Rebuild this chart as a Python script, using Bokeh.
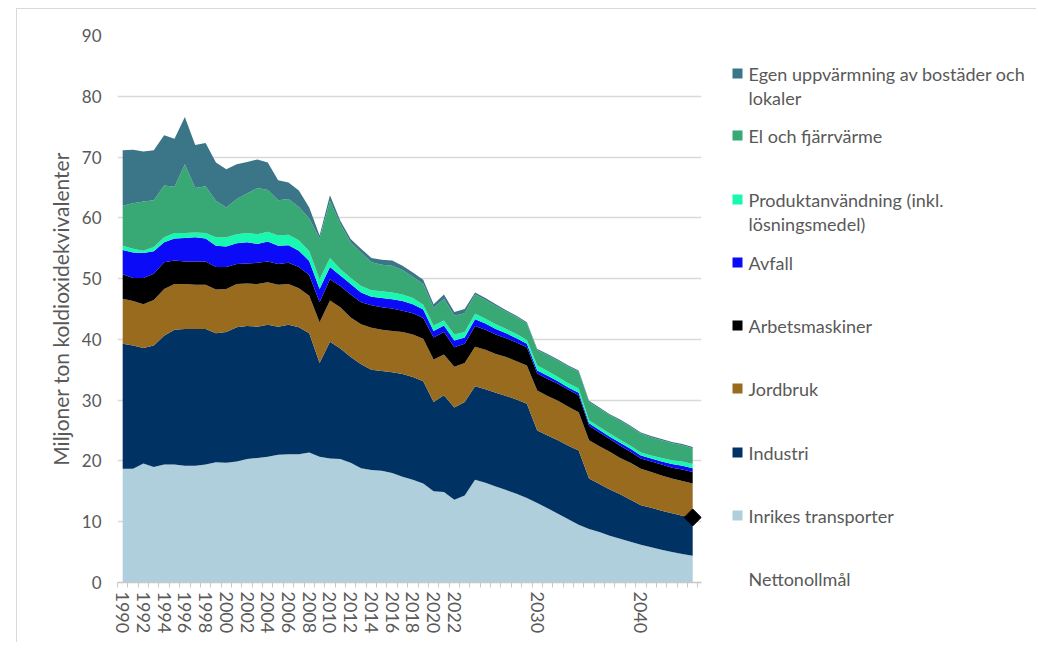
from bokeh.plotting import figure
from bokeh.models import ColumnDataSource, Range1d, FixedTicker
from bokeh.layouts import row
from bokeh.embed import file_html
from bokeh.resources import INLINE
from bokeh.core.properties import value

years = list(range(1990, 2046))

inrikes_transporter = [
    18.7, 18.7, 19.6, 19.0, 19.4, 19.4, 19.2, 19.2, 19.4, 19.8,
    19.7, 19.9, 20.3, 20.5, 20.7, 21.0, 21.1, 21.1, 21.4, 20.7,
    20.4, 20.3, 19.7, 18.8, 18.5, 18.4, 18.0, 17.4, 16.9, 16.3,
    15.0, 14.9, 13.6, 14.3, 16.9, 16.4, 15.8, 15.2, 14.6, 13.9,
    13.1, 12.2, 11.3, 10.4, 9.5, 8.8, 8.3, 7.7, 7.2, 6.7,
    6.2, 5.8, 5.4, 5.0, 4.7, 4.4]
industri = [
    20.6, 20.3, 19.0, 20.0, 21.2, 22.2, 22.5, 22.5, 22.3, 21.2,
    21.5, 22.1, 21.9, 21.6, 21.7, 21.1, 21.3, 20.9, 19.6, 15.4,
    19.2, 18.2, 17.4, 17.1, 16.5, 16.4, 16.6, 16.9, 16.9, 16.8,
    14.7, 15.9, 15.2, 15.4, 15.4, 15.4, 15.4, 15.5, 15.5, 15.5,
    11.9, 12.0, 12.1, 12.1, 12.2, 8.3, 7.9, 7.6, 7.3, 6.9,
    6.5, 6.5, 6.4, 6.4, 6.3, 6.3]
jordbruk = [
    7.4, 7.3, 7.2, 7.5, 7.7, 7.5, 7.4, 7.3, 7.3, 7.2,
    7.1, 7.1, 7.0, 7.0, 7.0, 6.9, 6.7, 6.4, 6.2, 6.7,
    6.8, 6.8, 6.5, 6.6, 6.9, 6.8, 6.8, 6.9, 7.0, 7.0,
    7.0, 6.7, 6.7, 6.4, 6.5, 6.5, 6.4, 6.4, 6.3, 6.3,
    6.6, 6.5, 6.5, 6.4, 6.3, 6.3, 6.2, 6.2, 6.0, 6.1,
    6.0, 5.9, 5.8, 5.7, 5.7, 5.6]
arbetsmaskiner = [
    4.0, 3.8, 4.3, 4.3, 4.4, 3.9, 3.7, 3.8, 3.8, 3.7,
    3.6, 3.3, 3.3, 3.5, 3.4, 3.4, 3.5, 3.5, 3.4, 3.3,
    3.5, 3.5, 3.8, 3.6, 3.7, 3.7, 3.7, 3.5, 3.5, 3.4,
    3.6, 3.7, 3.2, 3.2, 3.4, 3.3, 3.2, 3.1, 3.1, 3.0,
    2.8, 2.8, 2.8, 2.8, 2.8, 2.4, 2.3, 2.1, 2.0, 1.8,
    1.7, 1.7, 1.8, 1.8, 1.9, 1.9]
avfall = [
    4.0, 4.2, 4.1, 3.7, 3.3, 3.6, 3.9, 4.0, 3.8, 3.5,
    3.4, 3.4, 3.5, 3.1, 3.3, 3.0, 2.9, 2.7, 2.3, 2.2,
    2.0, 1.7, 1.7, 1.6, 1.4, 1.5, 1.5, 1.6, 1.5, 1.4,
    1.1, 1.1, 1.1, 1.0, 1.1, 1.0, 0.9, 0.8, 0.7, 0.6,
    0.5, 0.5, 0.4, 0.4, 0.4, 0.4, 0.4, 0.4, 0.5, 0.5,
    0.5, 0.5, 0.5, 0.6, 0.6, 0.6]
produktanvandning = [
    0.7, 0.6, 0.4, 0.7, 0.8, 0.9, 0.8, 0.8, 0.9, 1.4,
    1.5, 1.5, 1.5, 1.6, 1.6, 1.7, 1.7, 1.7, 1.6, 1.6,
    1.5, 1.1, 1.0, 1.1, 1.1, 1.1, 1.1, 1.1, 1.0, 0.8,
    0.9, 0.8, 1.0, 0.9, 0.9, 0.8, 0.8, 0.7, 0.7, 0.6,
    0.8, 0.8, 0.7, 0.7, 0.7, 0.5, 0.5, 0.5, 0.5, 0.5,
    0.5, 0.5, 0.6, 0.6, 0.7, 0.7]
el_fjarrvarme = [
    6.6, 7.5, 8.1, 7.7, 8.5, 7.6, 11.3, 7.3, 7.7, 6.0,
    4.9, 5.8, 6.5, 7.6, 6.9, 5.8, 5.9, 5.5, 5.4, 6.7,
    9.4, 7.4, 5.9, 5.5, 4.6, 4.4, 4.4, 4.0, 3.5, 3.4,
    2.9, 3.6, 3.1, 3.1, 3.2, 3.1, 3.0, 2.9, 2.8, 2.7,
    2.5, 2.6, 2.7, 2.7, 2.8, 3.0, 3.0, 3.0, 3.1, 3.1,
    3.1, 3.0, 2.9, 2.8, 2.7, 2.6]
egen_uppvarmning = [
    9.1, 8.8, 8.2, 8.2, 8.3, 7.9, 7.8, 7.1, 7.1, 6.3,
    6.3, 5.7, 5.2, 4.7, 4.5, 3.3, 2.7, 2.7, 1.8, 0.5,
    0.9, 0.5, 0.5, 0.6, 0.7, 0.8, 0.9, 0.7, 0.7, 0.7,
    0.6, 0.7, 0.6, 0.7, 0.3, 0.3, 0.3, 0.2, 0.2, 0.2,
    0.2, 0.2, 0.2, 0.2, 0.2, 0.2, 0.2, 0.2, 0.2, 0.2,
    0.2, 0.2, 0.2, 0.2, 0.2, 0.2]

netto_year = [2045]
netto_value = [10.7]

label_years = [1990, 1992, 1994, 1996, 1998, 2000, 2002, 2004, 2006, 2008,
               2010, 2012, 2014, 2016, 2018, 2020, 2022, 2030, 2040]
y_ticks = [0, 10, 20, 30, 40, 50, 60, 70, 80, 90]

keys = ["transport", "industri", "jordbruk", "arbets", "avfall", "produkt", "el", "egen"]
colors = ["#AECFDB", "#003364", "#996B1F", "#000000", "#0B0BF8", "#19F8B0", "#38A874", "#3B7688"]
legend_lines = [
    ["Egen uppvärmning av bostäder och", "lokaler"],
    ["El och fjärrvärme"],
    ["Produktanvändning (inkl.", "lösningsmedel)"],
    ["Avfall"],
    ["Arbetsmaskiner"],
    ["Jordbruk"],
    ["Industri"],
    ["Inrikes transporter"],
    ["Nettonollmål"],
]

FONT = "Lato"
TXT = "#595959"

src = ColumnDataSource(dict(
    year=years, transport=inrikes_transporter, industri=industri, jordbruk=jordbruk,
    arbets=arbetsmaskiner, avfall=avfall, produkt=produktanvandning,
    el=el_fjarrvarme, egen=egen_uppvarmning))

p = figure(width=711, height=633, x_range=Range1d(1989.5, 2045.85), y_range=Range1d(0, 90),
           output_backend="svg", toolbar_location=None,
           min_border_left=100, min_border_right=27, min_border_top=26, min_border_bottom=60)
p.frame_align = False
p.outline_line_color = None
p.background_fill_color = "white"
p.border_fill_color = "white"

p.varea_stack(stackers=keys, x="year", color=colors, source=src)
p.scatter(x=netto_year, y=netto_value, marker="square", size=12, angle=45, angle_units="deg",
          fill_color="black", line_color="black")

# x axis
p.xaxis.ticker = FixedTicker(ticks=label_years, minor_ticks=[y - 0.5 for y in years] + [years[-1] + 0.5])
p.xaxis.major_label_orientation = "vertical"
p.xaxis.major_tick_out = 0
p.xaxis.major_tick_in = 0
p.xaxis.minor_tick_out = 5
p.xaxis.minor_tick_in = 0
p.xaxis.minor_tick_line_color = "#c8c8c8"
p.xaxis.axis_line_color = "#c8c8c8"
p.xaxis.axis_line_width = 1.5
p.xaxis.major_label_text_font = FONT
p.xaxis.major_label_text_font_size = "18px"
p.xaxis.major_label_text_color = TXT
p.xaxis.major_label_standoff = 4
p.xgrid.visible = False

# y axis
p.yaxis.ticker = FixedTicker(ticks=y_ticks)
p.yaxis.axis_line_color = None
p.yaxis.major_tick_out = 0
p.yaxis.major_tick_in = 0
p.yaxis.major_tick_line_color = None
p.yaxis.minor_tick_line_color = None
p.yaxis.major_label_text_font = FONT
p.yaxis.major_label_text_font_size = "17px"
p.yaxis.major_label_text_color = TXT
p.yaxis.major_label_standoff = 16
p.yaxis.axis_label = "Miljoner ton koldioxidekvivalenter"
p.yaxis.axis_label_text_font = FONT
p.yaxis.axis_label_text_font_size = "21px"
p.yaxis.axis_label_text_font_style = "normal"
p.yaxis.axis_label_text_color = TXT
p.yaxis.axis_label_standoff = 6
p.ygrid.ticker = FixedTicker(ticks=y_ticks)
p.ygrid.grid_line_color = "#d9d9d9"
p.ygrid.grid_line_width = 1.5

# legend panel: its own frame fills the whole canvas; coordinates = page pixels
lg = figure(width=308, height=633, x_range=Range1d(728, 1036), y_range=Range1d(642, 9),
            output_backend="svg", toolbar_location=None, min_border=0,
            x_axis_type=None, y_axis_type=None)
lg.frame_align = False
lg.outline_line_color = None
lg.grid.visible = False

entry_y = [73, 135, 199, 262, 325, 388, 452, 515, 578]
legend_colors = colors[::-1]
lg.rect(x=[737] * 8, y=entry_y[:8], width=10, height=10, width_units="screen",
        height_units="screen", fill_color=legend_colors, line_color=None)
tx, ty, tt = [], [], []
for yy, lines in zip(entry_y, legend_lines):
    for i, ln in enumerate(lines):
        tx.append(748)
        ty.append(yy + 24 * i)
        tt.append(ln)
lg.text(x=tx, y=ty, text=tt, text_baseline="middle", text_align="left",
        text_font=value(FONT), text_font_size="18px", text_color=TXT)

layout = row(p, lg, margin=(8, 0, 0, 16),
             styles={"border-left": "1px solid #d9d9d9", "border-top": "1px solid #d9d9d9"})

open("out.html", "w").write(file_html(layout, INLINE))
